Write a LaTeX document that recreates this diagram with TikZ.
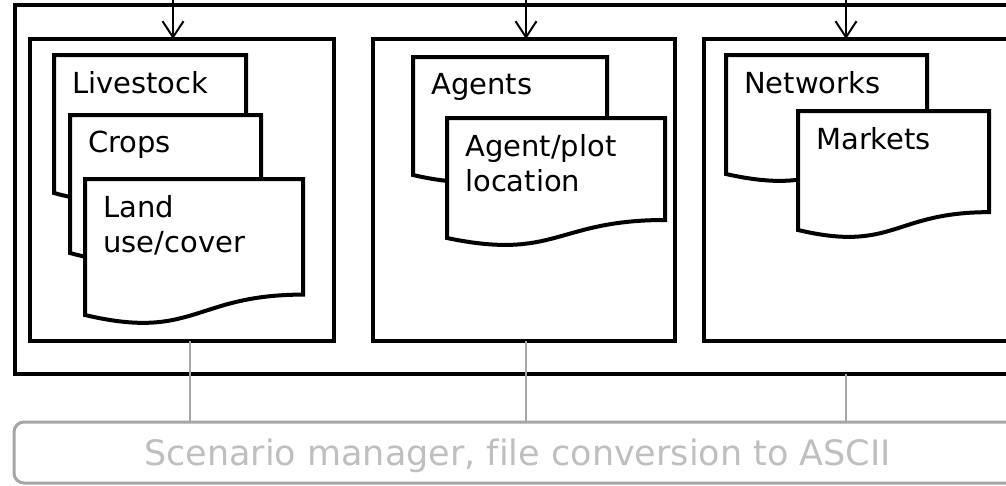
\documentclass[tikz,border=0pt]{standalone}
\usepackage{fontspec}
\setmainfont[Ligatures=NoCommon]{DejaVu Sans}
\usepackage{tikz}
\usetikzlibrary{arrows.meta}

\definecolor{linegray}{HTML}{A6A6A6}
\definecolor{textgray}{HTML}{BFBFBF}

% sheet with a wavy bottom: name, x, y, width, height, text
\newcommand{\docsheet}[6]{%
  \filldraw[sheet] (#2,#3) -- ({#2+#4},#3) -- ({#2+#4},{#3+0.85*#5})
    .. controls ({#2+0.5*#4},{#3+0.85*#5}) and ({#2+0.5*#4},{#3+1.19*#5}) .. (#2,{#3+#5}) -- cycle;
  \node[sheettext] (#1) at ({#2+18},{#3+16}) {#6};
}

\begin{document}
\begin{tikzpicture}[x=1pt, y=-1pt,
    frame/.style={draw, line width=4.5pt, inner sep=0pt, outer sep=0pt},
    panel/.style={draw, fill=white, line width=4.5pt, inner sep=0pt, outer sep=0pt,
      minimum height=302pt},
    sheet/.style={fill=white, draw=black, line width=4pt},
    sheettext/.style={anchor=north west, inner sep=0pt, align=left,
      font=\fontsize{29}{35}\selectfont},
    feed/.style={line width=2pt, -{Straight Barb[length=16pt,width=21pt]}},
    link/.style={draw=linegray, line width=2pt},
    manager/.style={draw=linegray, line width=3pt, rounded corners=10pt,
      minimum width=1007pt, minimum height=61pt, inner sep=0pt,
      text height=25pt, text depth=0pt, text=textgray,
      font=\fontsize{35}{40}\selectfont}]
    \useasboundingbox (0,0) rectangle (1006,485);
    \clip (0,0) rectangle (1006,485);

    % outer frame and the three panels
    \node[frame, minimum width=1015pt, minimum height=369pt] (frame) at (522.5,189.5) {};
    \node[panel, minimum width=304pt] (pnl1) at (182,190) {};
    \node[panel, minimum width=302pt] (pnl2) at (524,190) {};
    \node[panel, minimum width=308pt] (pnl3) at (858,190) {};

    % inputs from above
    \coordinate (in1) at (173,-10);
    \coordinate (in2) at (526,-10);
    \coordinate (in3) at (846,-10);
    \foreach \n in {1,2,3}
        \draw[feed] (in\n) -- (in\n |- pnl\n.north);

    % data sheets
    \docsheet{livestock}{54}{55}{192}{138}{Livestock}
    \docsheet{crops}{70}{115}{191}{138}{Crops}
    \docsheet{landuse}{85}{179}{218}{136}{Land\\use/cover}
    \docsheet{agents}{413}{57}{194}{118}{Agents}
    \docsheet{plotloc}{447}{118}{218}{120}{Agent/plot\\location}
    \docsheet{networks}{726}{55}{201}{119}{Networks}
    \docsheet{markets}{798}{111}{191}{119}{Markets}

    % scenario manager below
    \node[manager] (mgr) at (517.5,452.5) {Scenario manager, file conversion to ASCII};

    \path (pnl1.south) ++(8,0) coordinate (out1);
    \path (pnl2.south) ++(2,0) coordinate (out2);
    \path (frame.south) ++(323.5,0) coordinate (out3);
    \foreach \n in {1,2,3}
        \draw[link] (out\n) -- (out\n |- mgr.north);
\end{tikzpicture}
\end{document}
